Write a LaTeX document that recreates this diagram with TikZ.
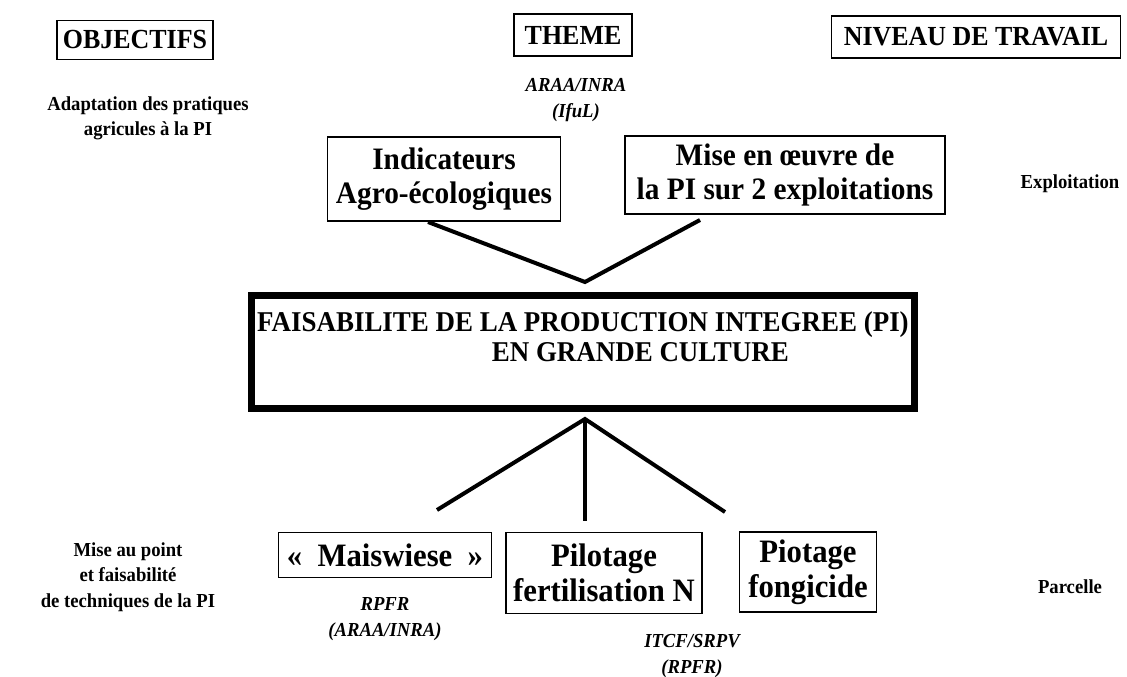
\documentclass[tikz,border=0pt]{standalone}
\usepackage{fontspec}
\setmainfont{Liberation Serif}[FakeStretch=0.94]
\usepackage{tikz}

\tikzset{
  headbox/.style={draw, line width=1.1pt, inner sep=0pt, font=\bfseries\fontsize{20.7}{24}\selectfont},
  topbox/.style={draw, line width=1.1pt, inner sep=0pt, align=center, font=\bfseries\fontsize{23.4}{25}\selectfont},
  lowbox/.style={draw, line width=1.1pt, inner sep=0pt, align=center, font=\bfseries\fontsize{24.5}{26}\selectfont},
  mainbox/.style={draw, line width=5.25pt, inner sep=0pt, align=left, text depth=22.5pt, font=\bfseries\fontsize{21.5}{22.5}\selectfont},
  sidetxt/.style={inner sep=0.75pt, align=center, font=\bfseries\fontsize{14.9}{19}\selectfont},
  srctxt/.style={inner sep=0.75pt, align=center, font=\bfseries\itshape\fontsize{14.9}{19}\selectfont},
  branch/.style={line width=3pt},
}

\begin{document}
\begin{tikzpicture}[x=0.75pt,y=0.75pt,yscale=-1,xscale=1]
\path[use as bounding box] (0,0) rectangle (1127,677);

% Column headers
\node[headbox, minimum width=117pt, minimum height=29pt] (objectifs) at (135,40) {OBJECTIFS};
\node[headbox, minimum width=88.5pt, minimum height=31.5pt] (theme) at (573,35) {THEME};
\node[headbox, minimum width=217pt, minimum height=31.5pt] (niveau) at (976,37) {NIVEAU DE TRAVAIL};

% Text Node
\node[srctxt] (araa) at (576,100) {ARAA/INRA\\(IfuL)};
% Text Node
\node[sidetxt] (adapt) at (148,118) {Adaptation des pratiques\\agricules à la PI};
% Text Node
\node[sidetxt] (exploit) at (1070,184) {Exploitation};

% Upper boxes
\node[topbox, minimum width=175pt, minimum height=63pt] (indic) at (444,179) {Indicateurs\\Agro-écologiques};
\node[topbox, minimum width=240pt, minimum height=58.5pt] (miseoeuvre) at (785,175) {Mise en œuvre de\\la PI sur 2 exploitations};

% Central box
\node[mainbox, minimum width=497pt, minimum height=85pt] (main) at (583,352)
  {FAISABILITE DE LA PRODUCTION INTEGREE (PI)\\\hspace*{176pt}EN GRANDE CULTURE};

% Lower boxes
\node[lowbox, minimum width=160pt, minimum height=34pt] (mais) at (385,555) {«\ \ Maiswiese\ \ »};
\node[lowbox, minimum width=147pt, minimum height=61pt] (pilot) at (604,573) {Pilotage\\fertilisation N};
\node[lowbox, minimum width=103pt, minimum height=60pt] (piot) at (808,572) {Piotage\\fongicide};

% Text Node
\node[sidetxt] (miseaupoint) at (128,577) {Mise au point\\et faisabilité\\de techniques de la PI};
% Text Node
\node[sidetxt] (parcelle) at (1070,587) {Parcelle};
% Text Node
\node[srctxt] (rpfr) at (385,619) {RPFR\\(ARAA/INRA)};
% Text Node
\node[srctxt] (itcf) at (692,656) {ITCF/SRPV\\(RPFR)};

% Branch ends
\coordinate (vtop) at (585,282);
\coordinate (vbot) at (585,419);
\coordinate (indend) at (428,222);
\coordinate (miseend) at (700,220);
\coordinate (maisend) at (437,510);
\coordinate (pilotend) at (585,521);
\coordinate (piotend) at (725,512);

%Straight Lines
\draw[branch] (indend) -- (vtop) -- (miseend);
%Straight Lines
\draw[branch] (maisend) -- (vbot) -- (piotend);
\draw[branch] (vbot) -- (pilotend);

\end{tikzpicture}
\end{document}
